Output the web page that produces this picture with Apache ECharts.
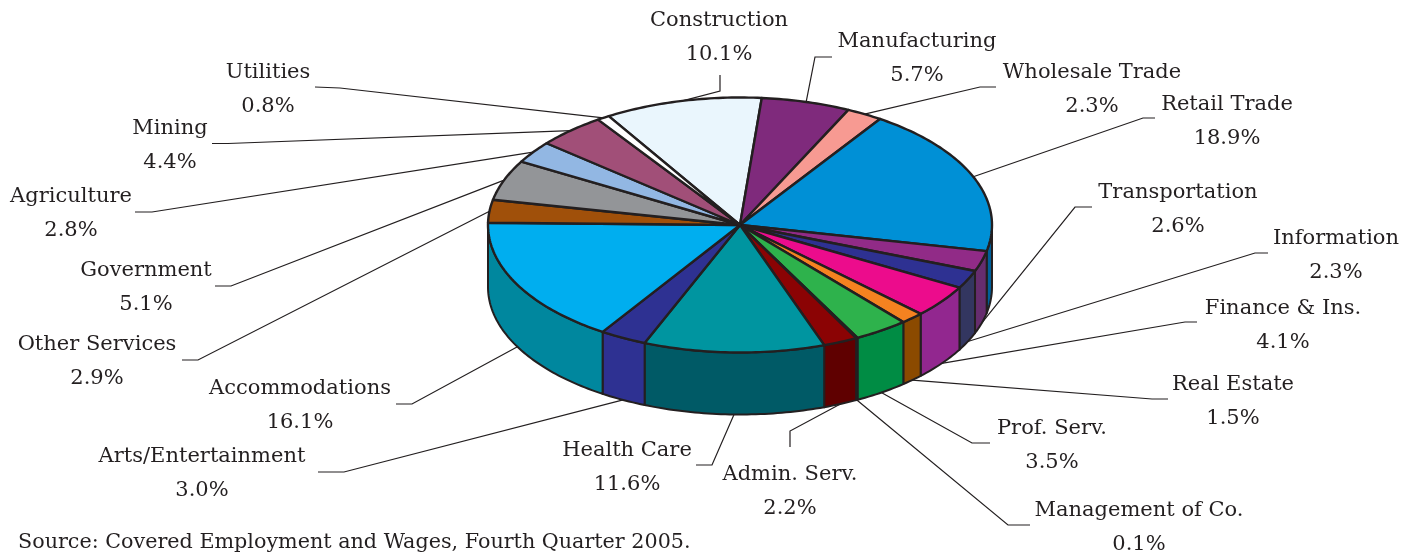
<!DOCTYPE html>
<html>
<head>
<meta charset="utf-8">
<title>Employment by industry</title>
<script src="https://cdn.jsdelivr.net/npm/echarts@6/dist/echarts.min.js"></script>
<style>
    html, body {margin: 0; padding: 0; background: #fff;}
    #chart {width: 1414px; height: 555px;}
</style>
</head>
<body>
<div id="chart"></div>
<script>
    // shares in percent, clockwise, first slice starts behind the top of the pie
    var sliceNames = ['Construction', 'Manufacturing', 'Wholesale Trade', 'Retail Trade', 'Transportation', 'Information',
        'Finance & Ins.', 'Real Estate', 'Prof. Serv.', 'Management of Co.', 'Admin. Serv.', 'Health Care',
        'Arts/Entertainment', 'Accommodations', 'Other Services', 'Government', 'Agriculture', 'Mining', 'Utilities'];
    var sliceValues = [10.1, 5.7, 2.3, 18.9, 2.6, 2.3, 4.1, 1.5, 3.5, 0.1, 2.2, 11.6, 3.0, 16.1, 2.9, 5.1, 2.8, 4.4, 0.8];
    var topColors = ['#EAF6FD', '#7F2A7C', '#F79A92', '#0090D6', '#912B87', '#2E3192', '#EC0C8C', '#F58220', '#2EB24C', '#2EB24C',
        '#8B0304', '#0095A0', '#2E3192', '#00AEEF', '#A0500A', '#939598', '#92B7E3', '#A14F78', '#FFFFFF'];
    var sideColors = ['#EAF6FD', '#7F2A7C', '#F79A92', '#005F99', '#662D6E', '#333660', '#92278F', '#8B4A00', '#008C44', '#008C44',
        '#5F0000', '#005A66', '#2E3192', '#00879E', '#A0500A', '#939598', '#92B7E3', '#A14F78', '#FFFFFF'];

    // label centre (x, y of the name line) and the leader elbow(s), same order as the slices
    var labelSpots = [[719, 19], [917, 40], [1092, 71], [1227, 103], [1178, 191], [1336, 237], [1283, 307], [1233, 383], [1052, 427],
        [1139, 509], [790, 473], [627, 449], [202, 455], [300, 387], [97, 343], [146, 269], [71, 195], [170, 127], [268, 71]];
    var leaderElbows = [[[720, 91], [720, 75]], [[815, 57], [832, 57]], [[980, 87], [996, 87]], [[1143, 118], [1155, 118]],
        [[1075, 207], [1092, 207]], [[1255, 253], [1268, 253]], [[1185, 322], [1197, 322]], [[1152, 399], [1168, 399]],
        [[972, 443], [990, 443]], [[1008, 525], [1030, 525]], [[790, 431], [790, 447]], [[712, 465], [696, 465]],
        [[344, 472], [318, 472]], [[412, 404], [396, 404]], [[198, 360], [182, 360]], [[231, 286], [215, 286]],
        [[152, 212], [135, 212]], [[228, 143.5], [212, 143.5]], [[340, 88], [315, 87]]];

    var CX = 740, CY = 225, RX = 252, RY = 127.5, DEPTH = 62;
    var START_DEG = -31.4;
    var INK = '#231F20';
    var FONT = '21px "DejaVu Serif"';

    var total = sliceValues.reduce(function (a, b) { return a + b; }, 0);
    var sliceAngles = [];
    var run = START_DEG;
    sliceValues.forEach(function (v) {
        var next = run + v / total * 360;
        sliceAngles.push([run, next]);
        run = next;
    });

    function rim(deg, drop) {
        var r = deg * Math.PI / 180;
        return [CX + RX * Math.sin(r), CY - RY * Math.cos(r) + (drop || 0)];
    }

    function arc(a0, a1, drop) {
        var pts = [];
        var n = Math.max(1, Math.ceil(Math.abs(a1 - a0)));
        for (var i = 0; i <= n; i++) {
            pts.push(rim(a0 + (a1 - a0) * i / n, drop));
        }
        return pts;
    }

    function renderLeader(params) {
        var i = params.dataIndex;
        var mid = (sliceAngles[i][0] + sliceAngles[i][1]) / 2;
        var front = mid > 90 && mid < 270;
        var pts = [rim(mid, front ? DEPTH : 0)].concat(leaderElbows[i]);
        return {
            type: 'group',
            children: [{
                type: 'polyline',
                shape: {points: pts},
                style: {fill: null, stroke: INK, lineWidth: 1.2}
            }, {
                type: 'text',
                style: {
                    x: labelSpots[i][0],
                    y: labelSpots[i][1] - 15,
                    text: sliceNames[i] + '\n' + sliceValues[i].toFixed(1) + '%',
                    textAlign: 'center',
                    font: FONT,
                    lineHeight: 34,
                    fill: INK
                }
            }]
        };
    }

    function renderSide(params) {
        var i = params.dataIndex;
        var a0 = Math.max(sliceAngles[i][0], 90), a1 = Math.min(sliceAngles[i][1], 270);
        if (a1 <= a0) {
            return null;
        }
        return {
            type: 'polygon',
            shape: {points: arc(a0, a1, 0).concat(arc(a1, a0, DEPTH))},
            style: {fill: sideColors[i], stroke: INK, lineWidth: 2, lineJoin: 'round'}
        };
    }

    function renderTop(params) {
        var i = params.dataIndex;
        return {
            type: 'polygon',
            shape: {points: [[CX, CY]].concat(arc(sliceAngles[i][0], sliceAngles[i][1], 0))},
            style: {fill: topColors[i], stroke: INK, lineWidth: 2.4, lineJoin: 'round'}
        };
    }

    function pieLayer(render, z) {
        return {
            type: 'custom',
            coordinateSystem: 'none',
            silent: true,
            animation: false,
            z: z,
            data: sliceValues,
            renderItem: render
        };
    }

    var chart = echarts.init(document.getElementById('chart'), null, {renderer: 'canvas'});
    chart.setOption({
        animation: false,
        backgroundColor: '#fff',
        title: {
            text: 'Source: Covered Employment and Wages, Fourth Quarter 2005.',
            left: 13,
            top: 527,
            textStyle: {fontFamily: 'DejaVu Serif', fontSize: 20.7, fontWeight: 'normal', color: INK}
        },
        series: [pieLayer(renderLeader, 1), pieLayer(renderSide, 2), pieLayer(renderTop, 3)]
    });
</script>
</body>
</html>
